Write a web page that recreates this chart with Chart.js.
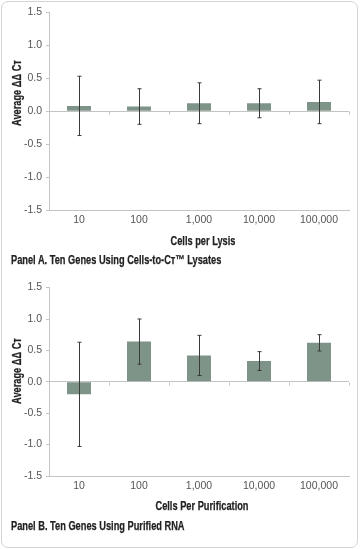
<!DOCTYPE html>
<html>
<head>
<meta charset="utf-8">
<script src="https://cdn.jsdelivr.net/npm/chart.js@4.4.1/dist/chart.umd.min.js"></script>
<style>
  html, body { margin: 0; padding: 0; background: #fff; }
  #frame { position: absolute; left: 1px; top: 1px; width: 355px; height: 545px; border: 1px solid #d4d4d4; border-radius: 7px; }
  .wrap { position: absolute; left: 0; width: 360px; height: 250px; }
  .t { position: absolute; font: bold 12.5px/14px "Liberation Sans", Arial, sans-serif; color: #222; white-space: nowrap; -webkit-text-stroke: 0.25px #222; }
  .cap { left: 11px; transform-origin: 0 50%; transform: scaleX(0.74); }
  .xtitle { transform: translate(-50%, -50%) scaleX(0.74); }
  .ytitle { transform: translate(-50%, -50%) rotate(-90deg) scaleX(0.74); }
</style>
</head>
<body>
<div id="frame"></div>
<div class="wrap" style="top:0px"><canvas id="cA" width="360" height="250"></canvas></div>
<div class="wrap" style="top:265.7px"><canvas id="cB" width="360" height="250"></canvas></div>
<div class="t ytitle" style="left:17px; top:93px">Average ΔΔ Cᴛ</div>
<div class="t ytitle" style="left:17px; top:371px">Average ΔΔ Cᴛ</div>
<div class="t xtitle" style="left:203px; top:241px">Cells per Lysis</div>
<div class="t xtitle" style="left:202px; top:506px">Cells Per Purification</div>
<div class="t cap" style="top:253px">Panel A. Ten Genes Using Cells-to-Cᴛ™ Lysates</div>
<div class="t cap" style="top:519px">Panel B. Ten Genes Using Purified RNA</div>
<script>
const categories = ["10", "100", "1,000", "10,000", "100,000"];
const yTicks = [-1.5, -1.0, -0.5, 0.0, 0.5, 1.0, 1.5];
const valuesA = [0.08, 0.07, 0.12, 0.12, 0.14];
const errA = [0.45, 0.27, 0.31, 0.22, 0.33];
const valuesB = [-0.20, 0.64, 0.42, 0.33, 0.62];
const errB = [0.83, 0.36, 0.32, 0.15, 0.13];

const BAR = '#7f9489';
const AXIS = '#c4c4c4';
const TICKFONT = { family: '"Liberation Sans", sans-serif', size: 10.5 };

const errorBars = {
  id: 'errorBars',
  afterDatasetsDraw(chart) {
    const errs = chart.options.plugins.errorBars.errs;
    const vals = chart.data.datasets[0].data;
    const x = chart.scales.x, y = chart.scales.y, ctx = chart.ctx;
    ctx.save();
    ctx.strokeStyle = '#3a3a3a';
    ctx.lineWidth = 1;
    vals.forEach((v, i) => {
      const px = Math.round(x.getPixelForValue(i)) + 0.5;
      const top = y.getPixelForValue(v + errs[i]);
      const bot = y.getPixelForValue(v - errs[i]);
      ctx.beginPath();
      ctx.moveTo(px, top); ctx.lineTo(px, bot);
      ctx.moveTo(px - 2, top); ctx.lineTo(px + 2, top);
      ctx.moveTo(px - 2, bot); ctx.lineTo(px + 2, bot);
      ctx.stroke();
    });
    ctx.restore();
  }
};

const zeroTicks = {
  id: 'zeroTicks',
  afterDraw(chart) {
    const x = chart.scales.x, y = chart.scales.y, ctx = chart.ctx;
    const y0 = Math.round(y.getPixelForValue(0)) + 0.5;
    ctx.save();
    ctx.strokeStyle = AXIS;
    ctx.lineWidth = 1;
    const n = chart.data.labels.length;
    for (let i = 0; i <= n; i++) {
      const px = Math.round(x.getPixelForValue(i - 0.5)) + 0.5;
      ctx.beginPath(); ctx.moveTo(px, y0); ctx.lineTo(px, y0 + 3); ctx.stroke();
    }
    ctx.restore();
  }
};

function makeChart(id, values, errs, padTop) {
  return new Chart(document.getElementById(id), {
    type: 'bar',
    data: { labels: categories, datasets: [{ data: values, backgroundColor: BAR, borderWidth: 0, categoryPercentage: 1, barPercentage: 0.4 }] },
    options: {
      responsive: false, animation: false, devicePixelRatio: 1,
      layout: { padding: { top: padTop, right: 11, left: 0, bottom: 0 } },
      plugins: { legend: { display: false }, tooltip: { enabled: false }, errorBars: { errs: errs } },
      scales: {
        x: {
          grid: { display: false, drawTicks: false },
          border: { display: true, color: AXIS, width: 1 },
          ticks: { color: '#555', font: TICKFONT, padding: 4, maxRotation: 0 },
          afterFit(s) { s.height = 40; }
        },
        y: {
          min: -1.5, max: 1.5,
          afterBuildTicks(s) { s.ticks = yTicks.map(v => ({ value: v })); },
          grid: {
            color: c => (c.tick && c.tick.value === 0) ? AXIS : 'rgba(0,0,0,0)',
            tickColor: AXIS, tickLength: 3, drawTicks: true
          },
          border: { display: true, color: AXIS, width: 1 },
          ticks: { color: '#555', font: TICKFONT, padding: 4, callback: v => v.toFixed(1) },
          afterFit(s) { s.width = 49; }
        }
      }
    },
    plugins: [errorBars, zeroTicks]
  });
}

makeChart('cA', valuesA, errA, 12.3);
makeChart('cB', valuesB, errB, 21.6);
</script>
</body>
</html>
